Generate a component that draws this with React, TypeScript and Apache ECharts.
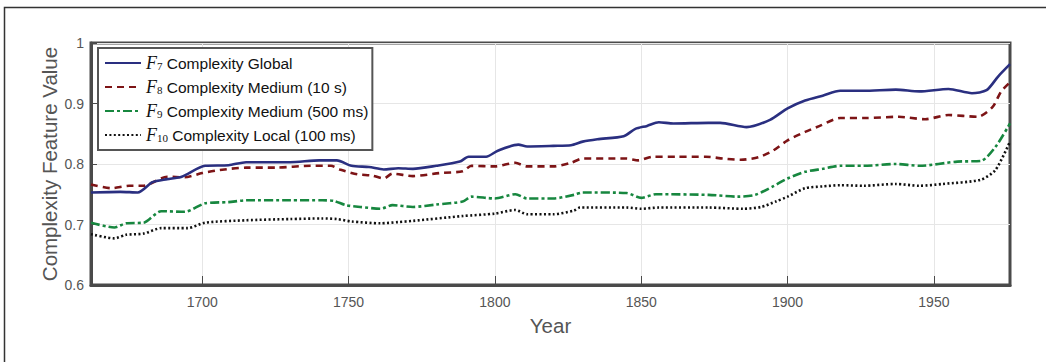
import React, { useEffect, useRef } from "react";
import * as echarts from "echarts";

const xTicks = [1700, 1750, 1800, 1850, 1900, 1950];

const f7Years = [1662, 1672, 1678, 1683, 1688, 1693, 1701, 1709, 1715, 1730, 1740, 1746, 1751, 1757, 1762, 1767, 1772, 1780, 1788, 1791, 1797, 1801, 1808, 1811, 1820, 1826, 1830, 1835, 1844, 1848, 1852, 1856, 1861, 1873, 1877, 1886, 1894, 1900, 1906, 1912, 1918, 1926, 1937, 1945, 1955, 1963, 1968, 1972, 1976];
const f7Values = [0.753, 0.754, 0.753, 0.770, 0.775, 0.779, 0.797, 0.798, 0.803, 0.803, 0.806, 0.806, 0.797, 0.795, 0.791, 0.793, 0.792, 0.797, 0.804, 0.812, 0.812, 0.822, 0.832, 0.829, 0.830, 0.831, 0.837, 0.841, 0.846, 0.858, 0.863, 0.869, 0.867, 0.868, 0.868, 0.861, 0.873, 0.892, 0.905, 0.913, 0.921, 0.921, 0.923, 0.920, 0.924, 0.917, 0.922, 0.945, 0.965];

const f8Years = [1662, 1669, 1675, 1680, 1688, 1694, 1700, 1706, 1715, 1725, 1737, 1744, 1747, 1753, 1758, 1762, 1765, 1772, 1781, 1789, 1792, 1800, 1807, 1811, 1820, 1826, 1830, 1845, 1849, 1854, 1862, 1872, 1878, 1884, 1890, 1895, 1900, 1906, 1911, 1918, 1926, 1938, 1947, 1955, 1965, 1970, 1973, 1976];
const f8Values = [0.766, 0.760, 0.764, 0.764, 0.779, 0.778, 0.785, 0.790, 0.794, 0.794, 0.797, 0.797, 0.791, 0.783, 0.781, 0.776, 0.784, 0.780, 0.785, 0.788, 0.797, 0.796, 0.802, 0.796, 0.796, 0.802, 0.809, 0.809, 0.806, 0.812, 0.812, 0.812, 0.809, 0.807, 0.811, 0.822, 0.839, 0.853, 0.863, 0.876, 0.876, 0.878, 0.874, 0.881, 0.878, 0.894, 0.920, 0.935];

const f9Years = [1662, 1670, 1674, 1680, 1686, 1694, 1701, 1709, 1715, 1730, 1741, 1745, 1749, 1754, 1761, 1765, 1772, 1780, 1789, 1792, 1800, 1807, 1811, 1820, 1827, 1830, 1845, 1850, 1855, 1873, 1883, 1889, 1895, 1900, 1906, 1912, 1918, 1926, 1937, 1945, 1958, 1966, 1971, 1976];
const f9Values = [0.703, 0.695, 0.702, 0.703, 0.722, 0.721, 0.735, 0.737, 0.740, 0.740, 0.740, 0.739, 0.732, 0.729, 0.726, 0.732, 0.729, 0.733, 0.738, 0.746, 0.743, 0.750, 0.743, 0.743, 0.749, 0.753, 0.752, 0.744, 0.750, 0.749, 0.746, 0.749, 0.763, 0.776, 0.787, 0.792, 0.797, 0.797, 0.800, 0.797, 0.804, 0.805, 0.828, 0.867];

const f10Years = [1662, 1670, 1674, 1680, 1686, 1695, 1701, 1715, 1730, 1741, 1746, 1751, 1761, 1767, 1772, 1789, 1800, 1807, 1811, 1820, 1827, 1829, 1845, 1850, 1856, 1873, 1885, 1891, 1896, 1900, 1906, 1912, 1918, 1926, 1937, 1945, 1953, 1966, 1971, 1976];
const f10Values = [0.684, 0.677, 0.683, 0.685, 0.694, 0.694, 0.703, 0.707, 0.709, 0.710, 0.709, 0.705, 0.702, 0.704, 0.706, 0.714, 0.718, 0.724, 0.717, 0.717, 0.723, 0.728, 0.728, 0.726, 0.728, 0.728, 0.726, 0.729, 0.738, 0.746, 0.760, 0.763, 0.765, 0.764, 0.767, 0.764, 0.767, 0.774, 0.790, 0.837];

const seriesNames = [
  "F7 Complexity Global",
  "F8 Complexity Medium (10 s)",
  "F9 Complexity Medium (500 ms)",
  "F10 Complexity Local (100 ms)",
];
const legendSubs = ["7", "8", "9", "10"];
const legendRest = [
  " Complexity Global",
  " Complexity Medium (10 s)",
  " Complexity Medium (500 ms)",
  " Complexity Local (100 ms)",
];

const zip = (xs: number[], ys: number[]) => xs.map((x, i) => [x, ys[i]]);

export default function App() {
  const ref = useRef<HTMLDivElement>(null);
  useEffect(() => {
    if (!ref.current) return;
    const chart = echarts.init(ref.current, undefined, { renderer: "svg" });
    const sans = "Liberation Sans, Arial, sans-serif";
    const axisColor = "#4a4a4a";
    const mk = (i: number, data: number[][], color: string, type: any, width: number) => ({
      name: seriesNames[i],
      type: "line",
      data,
      smooth: 0.25,
      showSymbol: false,
      symbol: "none",
      lineStyle: { color, width, type },
      itemStyle: { color },
      z: 10 - i,
    });
    chart.setOption({
      animation: false,
      backgroundColor: "#fff",
      graphic: [
        {
          type: "rect",
          shape: { x: 4.5, y: 7.5, width: 1200, height: 500 },
          style: { fill: "none", stroke: "#333", lineWidth: 1.5 },
          silent: true,
        },
      ],
      grid: {
        left: 91,
        top: 43,
        right: 36,
        bottom: 77,
        show: true,
        borderColor: axisColor,
        borderWidth: 3,
        backgroundColor: "transparent",
      },
      legend: {
        show: true,
        orient: "vertical",
        left: 98,
        top: 48,
        padding: [6, 4, 6, 6],
        itemGap: 6,
        itemWidth: 36,
        itemHeight: 12,
        backgroundColor: "#fff",
        borderColor: "#555",
        borderWidth: 2,
        borderRadius: 0,
        itemStyle: { opacity: 0, borderWidth: 0 },
        data: seriesNames,
        formatter: (name: string) => {
          const i = seriesNames.indexOf(name);
          return `{f|F}{s|${legendSubs[i]}}{t|${legendRest[i]}}`;
        },
        textStyle: {
          color: "#111",
          fontFamily: sans,
          fontSize: 15.5,
          rich: {
            f: { fontFamily: "Liberation Serif, serif", fontStyle: "italic", fontSize: 18, color: "#111", lineHeight: 17 },
            s: { fontFamily: "Liberation Serif, serif", fontSize: 11, color: "#111", verticalAlign: "bottom", lineHeight: 17, padding: [6, 0, 0, 0] },
            t: { fontFamily: sans, fontSize: 15.5, color: "#111", lineHeight: 17 },
          },
        },
      },
      xAxis: {
        type: "value",
        min: 1662,
        max: 1976,
        name: "Year",
        nameLocation: "middle",
        nameGap: 30,
        nameMoveOverlap: false,
        nameTextStyle: { fontFamily: sans, fontSize: 20.5, color: "#555" },
        axisLine: { show: true, lineStyle: { color: axisColor, width: 3 } },
        axisTick: { show: true, inside: true, length: 9, customValues: xTicks, lineStyle: { color: axisColor, width: 1 } },
        axisLabel: {
          customValues: xTicks,
          fontFamily: sans,
          fontSize: 14,
          color: "#555",
          margin: 10,
          formatter: (v: number) => String(Math.round(v)),
        },
        splitLine: { show: true, lineStyle: { color: "#e6e6e6", width: 1 } },
      },
      yAxis: {
        type: "value",
        min: 0.6,
        max: 1,
        interval: 0.1,
        name: "Complexity Feature Value",
        nameLocation: "middle",
        nameGap: 31,
        nameMoveOverlap: false,
        nameTextStyle: { fontFamily: sans, fontSize: 20.5, color: "#555" },
        axisLine: { show: true, lineStyle: { color: axisColor, width: 3 } },
        axisTick: { show: true, inside: true, length: 6, lineStyle: { color: axisColor, width: 1 } },
        axisLabel: {
          fontFamily: sans,
          fontSize: 14,
          color: "#555",
          margin: 7,
          formatter: (v: number) => (Math.abs(v - 1) < 1e-9 ? "1" : v.toFixed(1)),
        },
        splitLine: { show: true, lineStyle: { color: "#e6e6e6", width: 1 } },
      },
      series: [
        mk(0, zip(f7Years, f7Values), "#2a2f80", "solid", 2.6),
        mk(1, zip(f8Years, f8Values), "#7d1416", [7, 5], 2.6),
        mk(2, zip(f9Years, f9Values), "#17873f", [9, 3, 3, 3], 2.6),
        mk(3, zip(f10Years, f10Values), "#111111", [2, 2.4], 2.6),
      ],
    });
    return () => chart.dispose();
  }, []);
  return (
    <div
      ref={ref}
      style={{ position: "fixed", left: 0, top: 0, width: 1046, height: 362, background: "#fff" }}
    />
  );
}
